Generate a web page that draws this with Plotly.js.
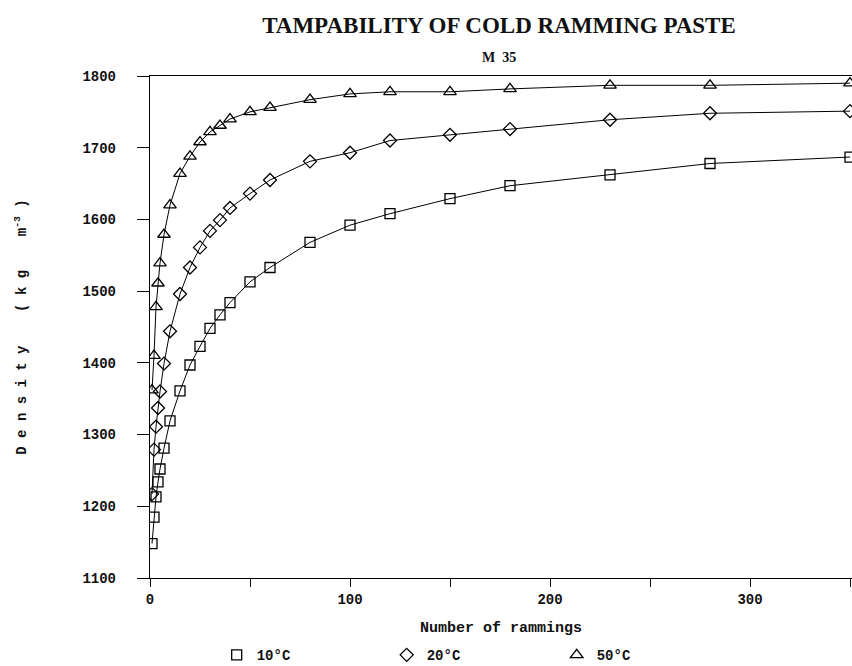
<!DOCTYPE html>
<html>
<head>
<meta charset="utf-8">
<script src="https://cdn.plot.ly/plotly-3.0.1.min.js"></script>
<style>html,body{margin:0;padding:0;background:#fff;}#chart{width:852px;height:666px;}</style>
</head>
<body>
<div id="chart"></div>
<script>
// Number of rammings
var x10 = [1, 2, 3, 4, 5, 7, 10, 15, 20, 25, 30, 35, 40, 50, 60, 80, 100, 120, 150, 180, 230, 280, 350];
var y10 = [1148, 1185, 1213, 1234, 1252, 1281, 1319, 1361, 1397, 1423, 1448, 1467, 1484, 1513, 1533, 1568, 1592, 1608, 1629, 1647, 1662, 1678, 1687];

var x20 = [1, 2, 3, 4, 5, 7, 10, 15, 20, 25, 30, 35, 40, 50, 60, 80, 100, 120, 150, 180, 230, 280, 350];
var y20 = [1217, 1279, 1311, 1337, 1360, 1399, 1444, 1496, 1533, 1561, 1584, 1599, 1616, 1636, 1655, 1681, 1693, 1710, 1718, 1726, 1739, 1748, 1751];

var x50 = [1, 2, 3, 4, 5, 7, 10, 15, 20, 25, 30, 35, 40, 50, 60, 80, 100, 120, 150, 180, 230, 280, 350];
var y50 = [1362, 1410, 1478, 1511, 1539, 1579, 1620, 1664, 1688, 1708, 1722, 1731, 1740, 1750, 1756, 1767, 1775, 1778, 1778, 1782, 1787, 1787, 1790];

var seriesNames = ['10°C', '20°C', '50°C'];
var yTickVals = [1100, 1200, 1300, 1400, 1500, 1600, 1700, 1800];
var xTickVals = [0, 100, 200, 300];

var mono = 'Liberation Mono, Courier New, monospace';

function lineTrace(x, y) {
  return {x: x, y: y, type: 'scatter', mode: 'lines', showlegend: false,
          line: {color: '#000', width: 1}, hoverinfo: 'skip'};
}
function markerTrace(x, y, name, symbol, size) {
  return {x: x, y: y, name: name, type: 'scatter', mode: 'markers',
          marker: {symbol: symbol, size: size, color: '#000', line: {color: '#000', width: 1.3}}};
}

var data = [
  lineTrace(x10, y10), lineTrace(x20, y20), lineTrace(x50, y50),
  markerTrace(x10, y10, seriesNames[0], 'square-open', 10),
  markerTrace(x20, y20, seriesNames[1], 'diamond-open', 10),
  markerTrace(x50, y50, seriesNames[2], 'triangle-up-open', 11)
];

var layout = {
  width: 852, height: 666,
  margin: {l: 150, r: 0, t: 76, b: 88, autoexpand: false},
  paper_bgcolor: '#fff', plot_bgcolor: '#fff',
  showlegend: true,
  title: {
    text: '<b>TAMPABILITY OF COLD RAMMING PASTE</b>',
    font: {family: 'Liberation Serif, Times New Roman, serif', size: 23, color: '#111'},
    x: 499/852, xanchor: 'center', xref: 'container',
    y: 1 - 25/666, yanchor: 'middle', yref: 'container'
  },
  annotations: [{
    text: '<b>M  35</b>', showarrow: false, xref: 'paper', yref: 'paper',
    x: (499-150)/702, y: 1 + (76-57)/502, xanchor: 'center', yanchor: 'middle',
    font: {family: 'Liberation Serif, Times New Roman, serif', size: 14, color: '#111'}
  }],
  xaxis: {
    range: [0, 351], tickvals: xTickVals, ticktext: xTickVals.map(String), automargin: false,
    showgrid: false, zeroline: false, showline: true, linecolor: '#000', linewidth: 1.2,
    mirror: true, ticks: 'outside', ticklen: 8, tickwidth: 1, tickcolor: '#000',
    minor: {tickvals: [50, 150, 250, 350], ticks: 'outside', ticklen: 8, tickwidth: 1, tickcolor: '#000'},
    tickfont: {family: mono, size: 14, color: '#111', weight: 'bold'},
    title: {text: '<b>Number of rammings</b>', font: {family: mono, size: 15, color: '#111'}, standoff: 14}
  },
  yaxis: {
    range: [1100, 1800], tickvals: yTickVals, ticktext: yTickVals.map(String), automargin: false,
    showgrid: false, zeroline: false, showline: true, linecolor: '#000', linewidth: 1.2,
    mirror: false, ticks: 'outside', ticklen: 12, tickwidth: 1, tickcolor: '#000',
    ticklabelstandoff: 18,
    tickfont: {family: mono, size: 14, color: '#111', weight: 'bold'},
    title: {text: '<b>D e n s i t y    ( k g    m<sup>-3</sup> )</b>', font: {family: mono, size: 14, color: '#111'}, standoff: 52}
  },
  legend: {
    orientation: 'h', x: 0.095, xanchor: 'left', y: -0.122, yanchor: 'top',
    entrywidth: 125, entrywidthmode: 'pixels', itemwidth: 30,
    font: {family: mono, size: 14, color: '#111', weight: 'bold'},
    bgcolor: 'rgba(0,0,0,0)'
  }
};

Plotly.newPlot('chart', data, layout, {displayModeBar: false, staticPlot: true});
</script>
</body>
</html>
